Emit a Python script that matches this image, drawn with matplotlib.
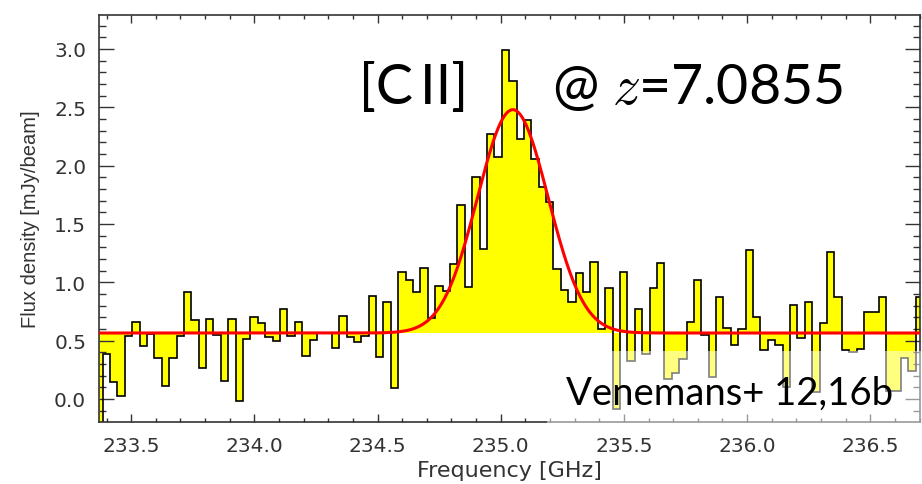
import numpy as np
import matplotlib.pyplot as plt
from matplotlib.patches import Rectangle
from matplotlib.ticker import MultipleLocator

# channel grid of the spectrum [GHz]
chan_start = 233.354
chan_width = 0.03

# flux density per channel [mJy/beam]
flux = [
    -0.22, 0.383, 0.143, 0.029, 0.537, 0.663, 0.457, 0.557, 0.354, 0.109,
    0.349, 0.537, 0.914, 0.680, 0.263, 0.688, 0.548, 0.151, 0.683, -0.017,
    0.514, 0.700, 0.649, 0.531, 0.494, 0.769, 0.540, 0.663, 0.372, 0.508,
    0.565, 0.565, 0.437, 0.714, 0.535, 0.488, 0.537, 0.885, 0.357, 0.828,
    0.092, 1.091, 1.020, 0.920, 1.120, 0.690, 0.966, 0.927, 1.155, 1.662,
    0.957, 1.902, 1.285, 2.268, 2.076, 2.993, 2.722, 2.228, 2.388, 2.057,
    1.814, 1.685, 1.114, 0.937, 0.828, 1.080, 0.914, 1.177, 0.597, 0.954,
    -0.086, 1.085, 0.323, 0.769, 0.386, 0.954, 1.165, 0.171, 0.223, 0.343,
    0.657, 1.022, 0.548, 0.191, 0.874, 0.611, 0.463, 0.597, 1.274, 0.700,
    0.420, 0.508, 0.460, 0.100, 0.808, 0.520, 0.828, 0.057, 0.648, 1.255,
    0.871, 0.420, 0.405, 0.428, 0.743, 0.743, 0.871, 0.065, 0.065, 0.350,
    0.240, 0.871,
]

# Gaussian line + flat continuum fit
cont = 0.565
line_peak = 1.914
line_center = 235.049
line_sigma = 0.1435

x_major = [233.5, 234.0, 234.5, 235.0, 235.5, 236.0, 236.5]
y_major = [0.0, 0.5, 1.0, 1.5, 2.0, 2.5, 3.0]

fig = plt.figure(figsize=(9.22, 4.85), dpi=100)
ax = fig.add_axes([0.107, 0.1285, 0.8904, 0.8391])

edges = chan_start + chan_width * np.arange(len(flux) + 1)
ax.stairs(flux, edges, baseline=cont, fill=True, color='#ffff00', lw=0, zorder=1)
ax.stairs(flux, edges, baseline=None, color='black', lw=1.2, zorder=2)

nu = np.linspace(edges[0], edges[-1], 1000)
model = cont + line_peak * np.exp(-0.5 * ((nu - line_center) / line_sigma) ** 2)
ax.plot(nu, model, color='red', lw=2.2, zorder=3)

ax.set_xlim(233.368, 236.70)
ax.set_ylim(-0.195, 3.293)
ax.set_xticks(x_major)
ax.set_xticklabels([f'{v:.1f}' for v in x_major])
ax.set_yticks(y_major)
ax.set_yticklabels([f'{v:.1f}' for v in y_major])
ax.xaxis.set_minor_locator(MultipleLocator(0.1))
ax.yaxis.set_minor_locator(MultipleLocator(0.1))

for s in ax.spines.values():
    s.set_color('#333333')
    s.set_linewidth(1.2)
ax.tick_params(axis='both', which='both', direction='in', top=True, right=True,
               color='#333333', width=1.0, labelsize=14.5, labelcolor='#333333')
ax.tick_params(axis='x', which='major', length=6, pad=10)
ax.tick_params(axis='x', which='minor', length=3)
ax.tick_params(axis='y', which='major', length=11, pad=9)
ax.tick_params(axis='y', which='minor', length=5)

ax.set_xlabel('Frequency [GHz]', fontsize=16, color='#333333', labelpad=4)
ax.set_ylabel('Flux density [mJy/beam]', fontsize=14.5, color='#333333',
              family=['Liberation Sans', 'DejaVu Sans'], labelpad=10)

# translucent panel behind the reference note
fig.add_artist(Rectangle((547 / 922, 57 / 485), 375 / 922, 76 / 485,
                         transform=fig.transFigure, facecolor='white',
                         edgecolor='none', alpha=0.5, zorder=5))

fig.text(359 / 922, 381 / 485, '[C\u2009II]', fontsize=40,
         family=['Lato', 'DejaVu Sans'], va='baseline', ha='left', zorder=6)
fig.text(552 / 922, 381 / 485, r'@ $z$=7.0855', fontsize=40, family='Lato',
         math_fontfamily='cm', va='baseline', ha='left', zorder=6)
fig.text(566 / 922, 80 / 485, 'Venemans+ 12,16b', fontsize=27.5, family='Lato',
         va='baseline', ha='left', zorder=6)

fig.savefig('out.png', dpi=100)
